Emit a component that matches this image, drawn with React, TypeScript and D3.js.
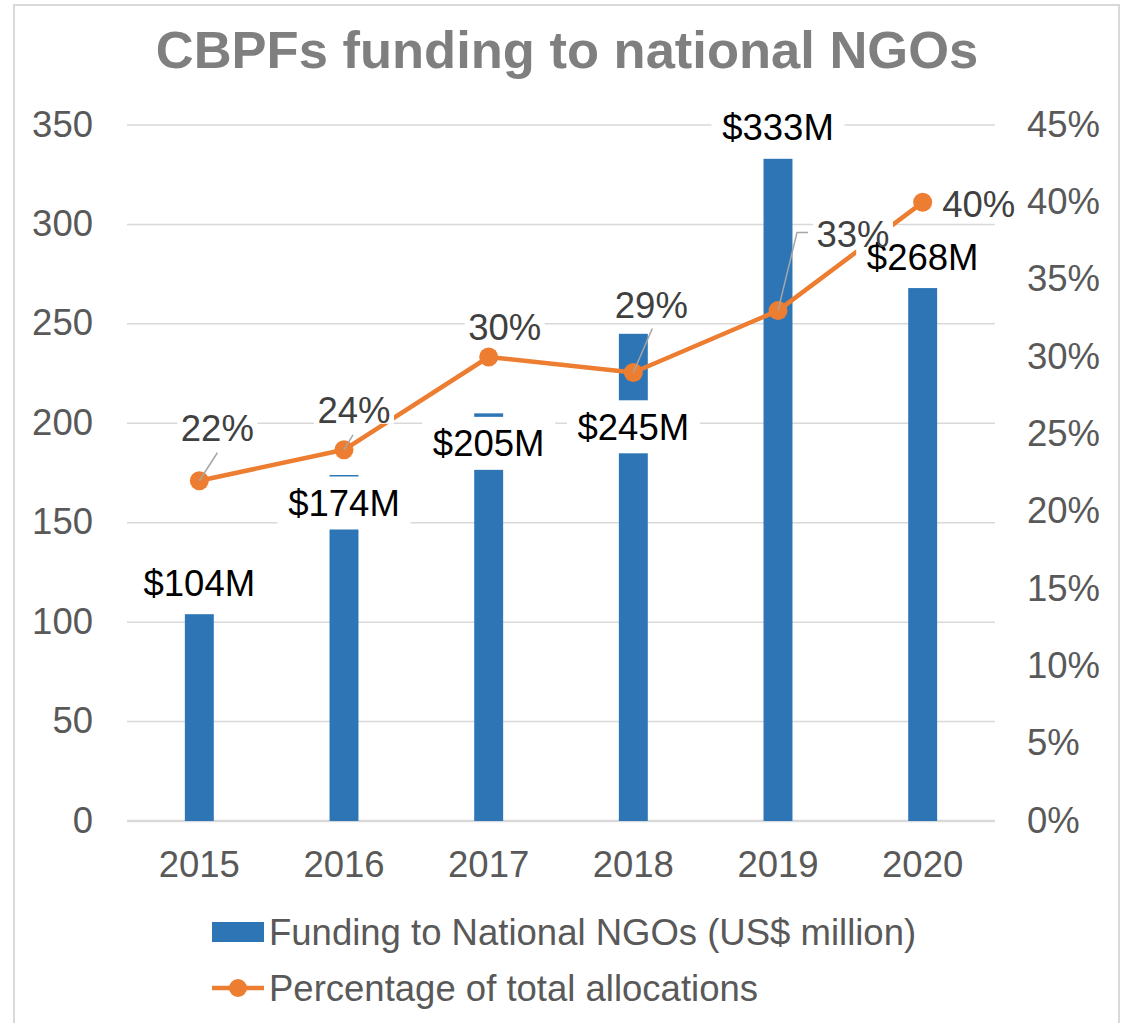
import React from "react";
import * as d3 from "d3";

const years = ["2015", "2016", "2017", "2018", "2019", "2020"];
const funding = [104, 174, 205, 245, 333, 268];
const percentages = [22, 24, 30, 29, 33, 40];
const leftTicks = [0, 50, 100, 150, 200, 250, 300, 350];
const rightTicks = [0, 5, 10, 15, 20, 25, 30, 35, 40, 45];
const fundingLabels = ["$104M", "$174M", "$205M", "$245M", "$333M", "$268M"];
const titleText = "CBPFs funding to national NGOs";
const legendBar = "Funding to National NGOs (US$ million)";
const legendLine = "Percentage of total allocations";

// layout-only config (label placement offsets, in px)
const fundingLabelDy = [-31, 28, 30, 93, -32, -31];
const pctLabelOffset: [number, number][] = [[18, -53], [10, -40], [16, -30], [18, -68], [75, -77], [56, 2]];
const pctLeaders: [number, number][][] = [
  [[18, -28]],
  [[9, -15]],
  [],
  [[19, -44]],
  [[19, -78], [30, -78]],
  [],
];

const W = 1124, H = 1023;
const FONT = "'Liberation Sans', Arial, Helvetica, sans-serif";
const FS = 36.5;
const BLUE = "#2E75B6";
const ORANGE = "#ED7D31";
const GRID = "#d9d9d9";
const AXIS_TXT = "#595959";

export default function App() {
  const x0 = 127, x1 = 995, yTop = 125, yBot = 821;
  const x = d3.scaleBand<string>().domain(years).range([x0, x1]).paddingInner(0).paddingOuter(0);
  const yL = d3.scaleLinear().domain([0, 350]).range([yBot, yTop]);
  const yR = d3.scaleLinear().domain([0, 45]).range([yBot, yTop]);
  const bw = x.bandwidth() * 0.2;
  const cx = (y: string) => (x(y) as number) + x.bandwidth() / 2;
  const capShift = FS * 0.358;

  const linePath = d3
    .line<number>()
    .x((_, i) => cx(years[i]))
    .y((d) => yR(d))(percentages) as string;

  return (
    <svg width={W} height={H} style={{ position: "absolute", left: 0, top: 0, background: "#fff" }} fontFamily={FONT}>
      <rect x={0} y={0} width={W} height={H} fill="#fff" />
      <rect x={14} y={5} width={1105} height={1040} fill="#fff" stroke={GRID} strokeWidth={2} />
      <text x={567} y={68} textAnchor="middle" fontSize={52.5} fontWeight="bold" fill="#7f7f7f">
        {titleText}
      </text>
      {/* gridlines */}
      {leftTicks.map((t) => (
        <line key={"g" + t} x1={x0} x2={x1} y1={yL(t)} y2={yL(t)} stroke={GRID} strokeWidth={t === 0 ? 2.5 : 1.5} />
      ))}
      {/* left ticks */}
      {leftTicks.map((t) => (
        <text key={"l" + t} x={93} y={yL(t) + capShift - 1.5} textAnchor="end" fontSize={FS} fill={AXIS_TXT}>
          {t}
        </text>
      ))}
      {/* right ticks */}
      {rightTicks.map((t) => (
        <text key={"r" + t} x={1027} y={yR(t) + capShift - 1.5} textAnchor="start" fontSize={FS} fill={AXIS_TXT}>
          {t + "%"}
        </text>
      ))}
      {/* x labels */}
      {years.map((yr) => (
        <text key={"x" + yr} x={cx(yr)} y={877} textAnchor="middle" fontSize={FS} fill={AXIS_TXT}>
          {yr}
        </text>
      ))}
      {/* bars */}
      {years.map((yr, i) => (
        <rect key={"b" + yr} x={cx(yr) - bw / 2} y={yL(funding[i])} width={bw} height={yBot - yL(funding[i])} fill={BLUE} />
      ))}
      {/* line */}
      <path d={linePath} fill="none" stroke={ORANGE} strokeWidth={4.5} strokeLinejoin="round" />
      {percentages.map((p, i) => (
        <circle key={"m" + i} cx={cx(years[i])} cy={yR(p)} r={9.5} fill={ORANGE} />
      ))}
      {/* leaders */}
      {percentages.map((p, i) => {
        if (!pctLeaders[i].length) return null;
        const px = cx(years[i]), py = yR(p);
        const pts = [[px, py], ...pctLeaders[i].map(([dx, dy]) => [px + dx, py + dy])];
        return (
          <polyline key={"ld" + i} points={pts.map((q) => q.join(",")).join(" ")} fill="none" stroke="#a6a6a6" strokeWidth={1.5} />
        );
      })}
      {/* label boxes */}
      {years.map((yr, i) => {
        const cy = yL(funding[i]) + fundingLabelDy[i];
        return <rect key={"fb" + i} x={cx(yr) - 66.5} y={cy - 26.5} width={133} height={53} fill="#fff" />;
      })}
      {percentages.map((p, i) => {
        const tx = cx(years[i]) + pctLabelOffset[i][0];
        const ty = yR(p) + pctLabelOffset[i][1];
        return <rect key={"pb" + i} x={tx - 40} y={ty - 14} width={80} height={28} fill="#fff" />;
      })}
      {/* label texts */}
      {years.map((yr, i) => {
        const cy = yL(funding[i]) + fundingLabelDy[i];
        return (
          <text key={"ft" + i} x={cx(yr)} y={cy + capShift} textAnchor="middle" fontSize={FS} fill="#000">
            {fundingLabels[i]}
          </text>
        );
      })}
      {percentages.map((p, i) => {
        const tx = cx(years[i]) + pctLabelOffset[i][0];
        const ty = yR(p) + pctLabelOffset[i][1];
        return (
          <text key={"pt" + i} x={tx} y={ty + capShift} textAnchor="middle" fontSize={FS} fill="#404040">
            {p + "%"}
          </text>
        );
      })}
      {/* legend */}
      <rect x={212} y={922} width={52} height={20} fill={BLUE} />
      <text x={269} y={932 + capShift} fontSize={FS} fill={AXIS_TXT}>
        {legendBar}
      </text>
      <line x1={212} x2={264} y1={988} y2={988} stroke={ORANGE} strokeWidth={4.5} />
      <circle cx={238} cy={988} r={9} fill={ORANGE} />
      <text x={269} y={988 + capShift} fontSize={FS} fill={AXIS_TXT}>
        {legendLine}
      </text>
    </svg>
  );
}
